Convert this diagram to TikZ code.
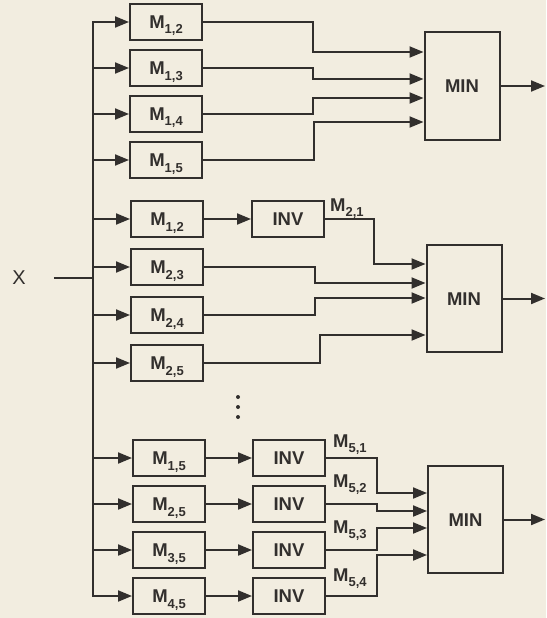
\documentclass[tikz,border=0pt]{standalone}
\usepackage{fontspec}
\setmainfont{Liberation Sans}
\usetikzlibrary{arrows.meta,positioning}

\definecolor{paper}{RGB}{242,237,224}
\definecolor{ink}{RGB}{50,47,45}

\newcommand{\Msub}[1]{M\raisebox{-5.5pt}{\fontsize{13}{13}\selectfont #1}}

\begin{document}
\begin{tikzpicture}[x=1pt, y=-1pt,
  blk/.style={rectangle, draw=ink, line width=2pt, fill=paper, minimum width=72pt,
              minimum height=36pt, inner sep=0pt, text=ink, text height=13pt, text depth=0pt,
              font=\fontsize{18.5}{22}\selectfont\bfseries},
  minblk/.style={blk, minimum width=75pt, minimum height=107pt},
  lbl/.style={anchor=base west, inner sep=0pt, text=ink, font=\fontsize{18.5}{22}\selectfont\bfseries},
  arr/.style={-{Triangle[length=14pt,width=11pt]}, draw=ink, line width=2pt},
  wire/.style={draw=ink, line width=2pt},
]

\fill[paper] (0,0) rectangle (546,618);
\useasboundingbox (0,0) rectangle (546,618);

\coordinate (bus) at (93,0);
\coordinate (out) at (545,0);

% first row of blocks
\node[blk] (m12) at (166,22) {\Msub{1,2}};
\node[blk, below=8pt of m12] (m13) {\Msub{1,3}};
\node[blk, below=8pt of m13] (m14) {\Msub{1,4}};
\node[blk, below=8pt of m14] (m15) {\Msub{1,5}};
\node[minblk] (min1) at (462,86) {MIN};

% second row of blocks
\node[blk] (n12) at (167,219) {\Msub{1,2}};
\node[blk, below=10pt of n12] (n23) {\Msub{2,3}};
\node[blk, below=10pt of n23] (n24) {\Msub{2,4}};
\node[blk, below=10pt of n24] (n25) {\Msub{2,5}};
\node[blk, right=47pt of n12] (i21) {INV};
\node[lbl] (l21) at (330,211) {\Msub{2,1}};
\node[minblk] (min2) at (464,298.5) {MIN};

% last row of blocks
\node[blk] (p15) at (169,458) {\Msub{1,5}};
\node[blk, below=8pt of p15] (p25) {\Msub{2,5}};
\node[blk, below=8pt of p25] (p35) {\Msub{3,5}};
\node[blk, below=8pt of p35] (p45) {\Msub{4,5}};
\node[blk, right=46pt of p15] (i51) {INV};
\node[blk, right=46pt of p25] (i52) {INV};
\node[blk, right=46pt of p35] (i53) {INV};
\node[blk, right=46pt of p45] (i54) {INV};
\node[lbl] (l51) at (333,447) {\Msub{5,1}};
\node[lbl] (l52) at (333,487) {\Msub{5,2}};
\node[lbl] (l53) at (333,533) {\Msub{5,3}};
\node[lbl] (l54) at (333,581) {\Msub{5,4}};
\node[minblk] (min3) at (465.5,519.5) {MIN};

\foreach \y in {397,407,417}
  \fill[ink] (238,\y) circle (2pt);

% input X and the bus
\node[inner sep=0pt, text=ink, font=\fontsize{20}{24}\selectfont] (xin) at (19,278) {X};
\draw[wire] (xin.east) ++(28,0) -- (bus |- xin.east);
\draw[wire, line cap=rect] (bus |- m12.west) -- (bus |- p45.west);
\foreach \b in {m12,m13,m14,m15,n12,n23,n24,n25,p15,p25,p35,p45}
  \draw[arr] (bus |- \b.west) -- (\b.west);

% into the first MIN
\draw[arr] (m12.east) -- (m12.east -| 313,0) |- (min1.west |- 0,52);
\draw[arr] (m13.east) -- (m13.east -| 313,0) |- (min1.west |- 0,79);
\draw[arr] (m14.east) -- (m14.east -| 313,0) |- (min1.west |- 0,98);
\draw[arr] (m15.east) -- (m15.east -| 314,0) |- (min1.west |- 0,122);

% into the second MIN
\draw[arr] (n12) -- (i21);
\draw[arr] (i21.east) -- (i21.east -| 374,0) |- (min2.west |- 0,264);
\draw[arr] (n23.east) -- (n23.east -| 315,0) |- (min2.west |- 0,283);
\draw[arr] (n24.east) -- (n24.east -| 315,0) |- (min2.west |- 0,298);
\draw[arr] (n25.east) -- (n25.east -| 320,0) |- (min2.west |- 0,335);

% into the last MIN
\draw[arr] (p15) -- (i51);
\draw[arr] (p25) -- (i52);
\draw[arr] (p35) -- (i53);
\draw[arr] (p45) -- (i54);
\draw[arr] (i51.east) -- (i51.east -| 377,0) |- (min3.west |- 0,493);
\draw[arr] (i52.east) -- (i52.east -| 377,0) |- (min3.west |- 0,511);
\draw[arr] (i53.east) -- (i53.east -| 377,0) |- (min3.west |- 0,528);
\draw[arr] (i54.east) -- (i54.east -| 377,0) |- (min3.west |- 0,555);

% outputs
\draw[arr] (min1.east) -- (min1.east -| out);
\draw[arr] (min2.east) -- (min2.east -| out);
\draw[arr] (min3.east) -- (min3.east -| out);

\end{tikzpicture}
\end{document}
